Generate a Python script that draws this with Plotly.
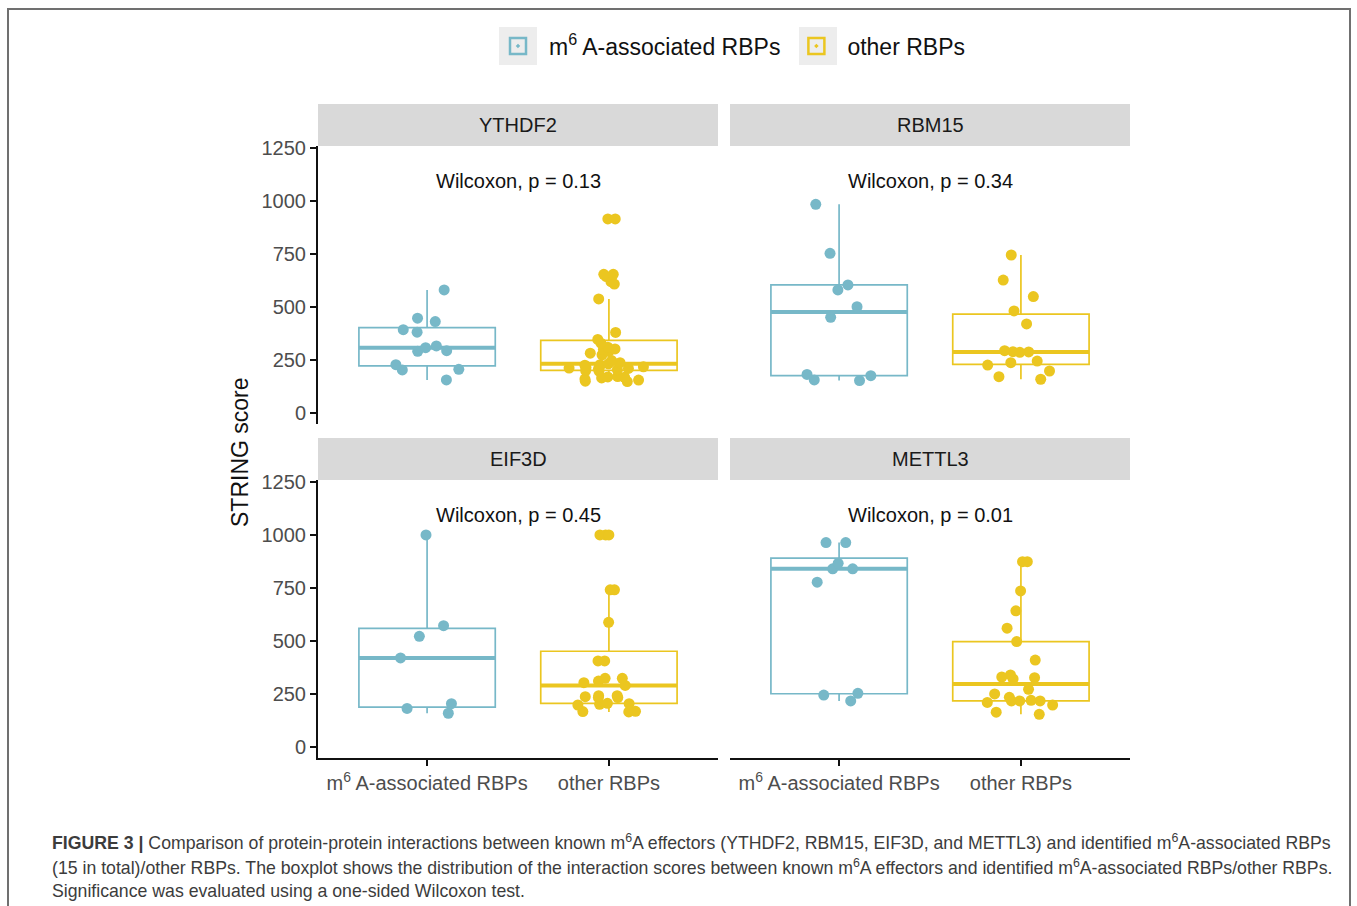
import numpy as np
import plotly.graph_objects as go

W, H = 1357, 906

effectors = ["YTHDF2", "RBM15", "EIF3D", "METTL3"]
groups = ["m<sup>6</sup> A-associated RBPs", "other RBPs"]
p_values = ["0.13", "0.34", "0.45", "0.01"]
y_ticks = [0, 250, 500, 750, 1000, 1250]

ythdf2_m6a = [580, 447, 431, 393, 381, 316, 308, 294, 291, 228, 206, 203, 156]
ythdf2_other = [915, 915, 654, 654, 643, 619, 608, 538, 380, 347, 329, 310, 302, 300,
                290, 282, 274, 247, 237, 232, 228, 225, 220, 218, 215, 212, 210, 208,
                204, 200, 198, 172, 170, 168, 165, 160, 155, 150, 148]
rbm15_m6a = [984, 753, 604, 580, 501, 451, 182, 176, 156, 153]
rbm15_other = [745, 627, 549, 481, 420, 294, 289, 288, 286, 245, 237, 226, 198, 171, 159]
eif3d_m6a = [1000, 572, 522, 420, 204, 182, 159]
eif3d_other = [1000, 1000, 1000, 741, 741, 588, 406, 406, 324, 324, 311, 303, 290, 242,
               242, 237, 233, 233, 206, 204, 201, 198, 168, 167, 165]
mettl3_m6a = [964, 964, 866, 840, 840, 777, 253, 245, 217]
mettl3_other = [874, 874, 736, 642, 560, 497, 410, 340, 330, 327, 321, 272, 250, 234,
                220, 217, 217, 217, 210, 198, 164, 154]

panel_data = [
    (ythdf2_m6a, ythdf2_other),
    (rbm15_m6a, rbm15_other),
    (eif3d_m6a, eif3d_other),
    (mettl3_m6a, mettl3_other),
]

colors = ["#77B8C8", "#EBC620"]
FONT = "Liberation Sans, Arial, Helvetica, sans-serif"
BOXW = 0.75


def px(x):
    return x / W


def py(y):
    return 1 - y / H


# panel pixel boxes: (left, right, top, bottom)
panels = [
    (318, 718, 146, 424),
    (730, 1130, 146, 424),
    (318, 718, 480, 758),
    (730, 1130, 480, 758),
]

fig = go.Figure()
shapes = []
annotations = []

for i, (name, (a, b)) in enumerate(zip(effectors, panel_data)):
    sfx = "" if i == 0 else str(i + 1)
    xa, ya = "x" + sfx, "y" + sfx
    for g, vals in enumerate((a, b)):
        pos = g + 1
        fig.add_trace(go.Box(
            x0=pos, y=vals, name=groups[g], legendgroup=groups[g], showlegend=False,
            xaxis=xa, yaxis=ya, width=BOXW, whiskerwidth=0,
            line=dict(color=colors[g], width=1.7), fillcolor="rgba(0,0,0,0)",
            boxpoints="all", jitter=0.6, pointpos=0, quartilemethod="linear",
            marker=dict(color=colors[g], size=11, line=dict(width=0)),
        ))
        med = float(np.median(vals))
        shapes.append(dict(type="line", xref=xa, yref=ya, layer="below",
                           x0=pos - BOXW / 2, x1=pos + BOXW / 2, y0=med, y1=med,
                           line=dict(color=colors[g], width=4)))
    l, r, t, btm = panels[i]
    # strip
    shapes.append(dict(type="rect", xref="paper", yref="paper",
                       x0=px(l), x1=px(r), y0=py(t), y1=py(t - 42),
                       fillcolor="#D9D9D9", line=dict(width=0), layer="below"))
    annotations.append(dict(text=name, xref="paper", yref="paper",
                            x=px((l + r) / 2), y=py(t - 21), showarrow=False,
                            font=dict(family=FONT, size=20, color="#1A1A1A"),
                            xanchor="center", yanchor="middle"))
    annotations.append(dict(text="Wilcoxon, p = " + p_values[i],
                            xref=xa + " domain", yref=ya + " domain",
                            x=0.5, y=(btm - (t + 35)) / (btm - t),
                            showarrow=False, xanchor="center", yanchor="middle",
                            font=dict(family=FONT, size=20, color="#111111")))

    left_col = i in (0, 2)
    bottom_row = i in (2, 3)
    fig.layout["xaxis" + sfx] = dict(
        domain=[px(l), px(r)], anchor=ya, range=[0.4, 2.6],
        tickvals=[1, 2], ticktext=groups,
        showline=bottom_row, linecolor="#111111", linewidth=2,
        ticks="outside" if bottom_row else "", ticklen=6, tickwidth=1.6, tickcolor="#111111",
        showticklabels=bottom_row, showgrid=False, zeroline=False, automargin=False,
        tickfont=dict(family=FONT, size=20, color="#4D4D4D"),
    )
    fig.layout["yaxis" + sfx] = dict(
        domain=[py(btm), py(t)], anchor=xa, range=[-52, 1259],
        tickvals=y_ticks,
        showline=left_col, linecolor="#111111", linewidth=2,
        ticks="outside" if left_col else "", ticklen=6, tickwidth=1.6, tickcolor="#111111",
        showticklabels=left_col, showgrid=False, zeroline=False, automargin=False,
        tickfont=dict(family=FONT, size=20, color="#4D4D4D"),
    )

# legend entries (key glyph: box outline with centre dot)
for g in range(2):
    fig.add_trace(go.Scatter(
        x=[None], y=[None], mode="markers", name=groups[g], legendgroup=groups[g],
        showlegend=True,
        marker=dict(symbol="square-open-dot", size=16, color=colors[g],
                    line=dict(width=2.5, color=colors[g])),
    ))

# grey key backgrounds behind legend glyphs
for cx in (518, 818):
    shapes.append(dict(type="rect", xref="paper", yref="paper", layer="below",
                       x0=px(cx - 19), x1=px(cx + 19), y0=py(65), y1=py(27),
                       fillcolor="#EDEDED", line=dict(width=0)))

# y-axis title
annotations.append(dict(text="STRING score", xref="paper", yref="paper",
                        x=px(240), y=py(452), textangle=-90, showarrow=False,
                        xanchor="center", yanchor="middle",
                        font=dict(family=FONT, size=23, color="#111111")))

# caption
CAP = "Liberation Sans, Arial, sans-serif"
caption_lines = [
    "<b>FIGURE 3 |</b> Comparison of protein-protein interactions between known m<sup>6</sup>A effectors "
    "(YTHDF2, RBM15, EIF3D, and METTL3) and identified m<sup>6</sup>A-associated RBPs",
    "(15 in total)/other RBPs. The boxplot shows the distribution of the interaction scores between "
    "known m<sup>6</sup>A effectors and identified m<sup>6</sup>A-associated RBPs/other RBPs.",
    "Significance was evaluated using a one-sided Wilcoxon test.",
]
for k, line in enumerate(caption_lines):
    annotations.append(dict(text=line, xref="paper", yref="paper",
                            x=px(50), y=py(842 + 24.5 * k), showarrow=False,
                            xanchor="left", yanchor="middle",
                            font=dict(family=CAP, size=17.7, color="#3C3C3C")))

# outer frame
shapes.append(dict(type="rect", xref="paper", yref="paper",
                   x0=px(8), x1=px(1350), y0=py(930), y1=py(9),
                   line=dict(color="#707070", width=2), fillcolor="rgba(0,0,0,0)"))

fig.update_layout(
    width=W, height=H, margin=dict(l=0, r=0, t=0, b=0, autoexpand=False),
    paper_bgcolor="white", plot_bgcolor="white",
    boxmode="overlay",
    shapes=shapes, annotations=annotations,
    legend=dict(orientation="h", x=px(487), xanchor="left", y=py(46), yanchor="middle",
                font=dict(family=FONT, size=23, color="#111111"),
                bgcolor="rgba(0,0,0,0)", itemwidth=52),
    font=dict(family=FONT),
)

fig.write_html("out.html", config={"displayModeBar": False},
               post_script="document.body.style.margin='0';document.body.style.overflow='hidden';")
